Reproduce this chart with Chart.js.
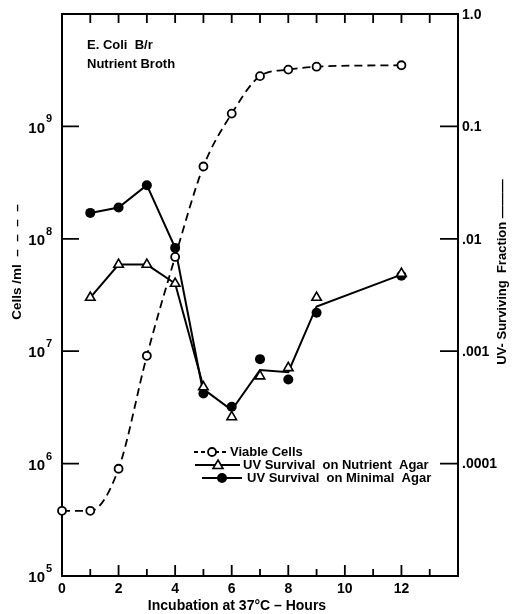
<!DOCTYPE html>
<html><head><meta charset="utf-8">
<script src="https://cdn.jsdelivr.net/npm/chart.js@4.4.1/dist/chart.umd.min.js"></script>
<style>html,body{margin:0;padding:0;background:#fff}#wrap{width:513px;height:614px}</style>
</head><body><div id="wrap"><canvas id="c" width="513" height="614"></canvas></div>
<script>
// Data
const hours = [0, 1, 2, 3, 4, 5, 6, 7, 8, 9, 12];
const viableCells = [3.8e5, 3.8e5, 9e5, 9.1e6, 6.9e7, 4.4e8, 1.3e9, 2.8e9, 3.2e9, 3.4e9, 3.5e9];
const uvHours = [1, 2, 3, 4, 5, 6, 7, 8, 9, 12];
const uvNutrient = [0.0030, 0.0059, 0.0059, 0.0040, 0.00048, 0.00026, 0.00060, 0.00071, 0.0030, 0.0049];
const uvMinimal = [0.017, 0.019, 0.030, 0.0083, 0.00042, 0.00032, 0.00085, 0.00056, 0.0022, 0.0047];
const fitHours = [5, 6, 7, 8, 9, 12];
const uvFitLine = [0.00046, 0.00030, 0.00068, 0.00065, 0.0025, 0.0048];
const xTickLabels = ['0', '2', '4', '6', '8', '10', '12'];
const leftTickExp = ['5', '6', '7', '8', '9'];
const rightTickLabels = ['1.0', '0.1', '.01', '.001', '.0001'];
const rightTickValues = [1, 0.1, 0.01, 0.001, 0.0001];
const legendLabels = ['Viable Cells', 'UV Survival  on Nutrient  Agar', 'UV Survival  on Minimal  Agar'];
const noteLines = ['E. Coli  B/r', 'Nutrient Broth'];

const pts = (xs, ys) => xs.map((x, i) => ({x: x, y: ys[i]}));
const FONT = "'Liberation Sans', Arial, sans-serif";

const decor = {
  id: 'decor',
  beforeDatasetsDraw(chart) {
    const {ctx, chartArea: a, scales} = chart;
    const xs = scales.x, yl = scales.y, yr = scales.y2;
    ctx.save();
    ctx.strokeStyle = '#000';
    ctx.lineWidth = 2;
    ctx.strokeRect(a.left, a.top, a.right - a.left, a.bottom - a.top);
    ctx.lineWidth = 1.8;
    ctx.beginPath();
    for (let h = 1; h <= 13; h++) {
      const px = xs.getPixelForValue(h);
      const len = h % 2 === 0 ? 11 : 7;
      ctx.moveTo(px, a.bottom); ctx.lineTo(px, a.bottom - len);
      ctx.moveTo(px, a.top); ctx.lineTo(px, a.top + 9);
    }
    for (let e = 6; e <= 9; e++) {
      const py = yl.getPixelForValue(Math.pow(10, e));
      ctx.moveTo(a.left, py); ctx.lineTo(a.left + 17, py);
    }
    rightTickValues.forEach(v => {
      if (v >= 1) return;
      const py = yr.getPixelForValue(v);
      ctx.moveTo(a.right, py); ctx.lineTo(a.right - 18, py);
    });
    ctx.stroke();
    ctx.restore();
  },
  afterDraw(chart) {
    const {ctx, chartArea: a, scales} = chart;
    const xs = scales.x, yl = scales.y, yr = scales.y2;
    ctx.save();
    ctx.fillStyle = '#000';
    ctx.strokeStyle = '#000';
    // x tick labels
    ctx.font = 'bold 14px ' + FONT;
    ctx.textAlign = 'center'; ctx.textBaseline = 'middle';
    xTickLabels.forEach(t => ctx.fillText(t, xs.getPixelForValue(+t), 589));
    // left tick labels 10^n
    leftTickExp.forEach(e => {
      const py = yl.getPixelForValue(Math.pow(10, +e));
      ctx.font = 'bold 15px ' + FONT;
      ctx.textAlign = 'right'; ctx.textBaseline = 'middle';
      ctx.fillText('10', 45, py + 2);
      ctx.font = 'bold 11px ' + FONT;
      ctx.textAlign = 'left';
      ctx.fillText(e, 46, py - 7);
    });
    // right tick labels
    ctx.font = 'bold 14px ' + FONT;
    ctx.textAlign = 'left'; ctx.textBaseline = 'middle';
    rightTickLabels.forEach((t, i) => {
      ctx.fillText(t, a.right + 4, yr.getPixelForValue(rightTickValues[i]) + 1);
    });
    // axis titles
    ctx.font = 'bold 14px ' + FONT;
    ctx.textAlign = 'center';
    ctx.fillText('Incubation at 37°C – Hours', 237, 606);
    ctx.save();
    ctx.translate(17, 262); ctx.rotate(-Math.PI / 2);
    ctx.font = 'bold 13.5px ' + FONT;
    ctx.fillText('Cells /ml  –  –  –  –', 0, 0);
    ctx.restore();
    ctx.save();
    ctx.translate(502, 272); ctx.rotate(-Math.PI / 2);
    ctx.font = 'bold 13px ' + FONT;
    ctx.fillText('UV- Surviving  Fraction ———', 0, 0);
    ctx.restore();
    // note
    ctx.font = 'bold 13px ' + FONT;
    ctx.textAlign = 'left';
    ctx.fillText(noteLines[0], 87, 45);
    ctx.fillText(noteLines[1], 87, 64);
    // legend
    const rows = [452, 465, 478];
    ctx.lineWidth = 1.8;
    // row 1 viable
    ctx.setLineDash([4, 3]);
    ctx.beginPath(); ctx.moveTo(194, rows[0]); ctx.lineTo(228, rows[0]); ctx.stroke();
    ctx.setLineDash([]);
    ctx.beginPath(); ctx.arc(212, rows[0], 4, 0, Math.PI * 2);
    ctx.fillStyle = '#fff'; ctx.fill(); ctx.stroke();
    // row 2 triangle
    ctx.lineWidth = 2;
    ctx.beginPath(); ctx.moveTo(195, rows[1]); ctx.lineTo(240, rows[1]); ctx.stroke();
    ctx.beginPath();
    ctx.moveTo(218, rows[1] - 5); ctx.lineTo(223, rows[1] + 3.5); ctx.lineTo(213, rows[1] + 3.5); ctx.closePath();
    ctx.fillStyle = '#fff'; ctx.fill(); ctx.lineWidth = 1.6; ctx.stroke();
    // row 3 filled
    ctx.lineWidth = 2;
    ctx.beginPath(); ctx.moveTo(202, rows[2]); ctx.lineTo(242, rows[2]); ctx.stroke();
    ctx.beginPath(); ctx.arc(222, rows[2], 5, 0, Math.PI * 2);
    ctx.fillStyle = '#000'; ctx.fill();
    ctx.font = 'bold 13px ' + FONT;
    ctx.fillStyle = '#000';
    ctx.fillText(legendLabels[0], 230, rows[0]);
    ctx.fillText(legendLabels[1], 243, rows[1]);
    ctx.fillText(legendLabels[2], 247, rows[2]);
    ctx.restore();
  }
};

const hideAfter5 = c => (c.p0.parsed.x >= 5 ? 'rgba(0,0,0,0)' : '#000');

new Chart(document.getElementById('c'), {
  type: 'line',
  data: {
    datasets: [
      {
        label: 'Viable Cells', data: pts(hours, viableCells), yAxisID: 'y',
        borderColor: '#000', borderWidth: 1.8, borderDash: [8, 5],
        cubicInterpolationMode: 'monotone',
        pointStyle: 'circle', pointRadius: 4, pointBorderWidth: 1.8,
        pointBackgroundColor: '#fff', pointBorderColor: '#000', clip: false
      },
      {
        label: 'UV Survival on Nutrient Agar', data: pts(uvHours, uvNutrient), yAxisID: 'y2',
        borderColor: '#000', borderWidth: 2, tension: 0,
        segment: {borderColor: hideAfter5},
        pointStyle: 'triangle', pointRadius: 5.5, pointBorderWidth: 1.6,
        pointBackgroundColor: '#fff', pointBorderColor: '#000', clip: false
      },
      {
        label: 'UV Survival on Minimal Agar', data: pts(uvHours, uvMinimal), yAxisID: 'y2',
        borderColor: '#000', borderWidth: 2, tension: 0,
        segment: {borderColor: hideAfter5},
        pointStyle: 'circle', pointRadius: 5, pointBorderWidth: 0,
        pointBackgroundColor: '#000', pointBorderColor: '#000', clip: false
      },
      {
        label: 'UV fit', data: pts(fitHours, uvFitLine), yAxisID: 'y2',
        borderColor: '#000', borderWidth: 2, tension: 0, pointRadius: 0, clip: false
      }
    ]
  },
  options: {
    responsive: false, animation: false,
    layout: {padding: {left: 62, right: 55, top: 14, bottom: 38}},
    plugins: {legend: {display: false}, tooltip: {enabled: false}},
    scales: {
      x: {type: 'linear', min: 0, max: 14, display: false},
      y: {type: 'logarithmic', min: 1e5, max: 1e10, display: false},
      y2: {type: 'logarithmic', min: 1e-5, max: 1, display: false, position: 'right'}
    }
  },
  plugins: [decor]
});
</script></body></html>
